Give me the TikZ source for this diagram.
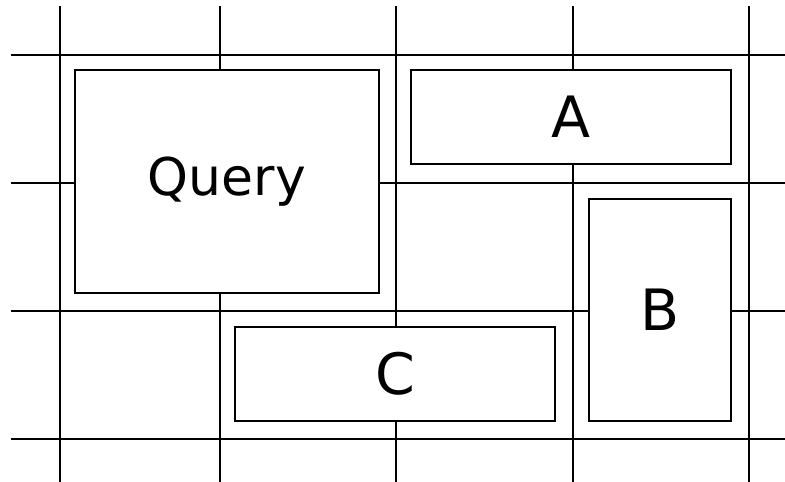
\documentclass[tikz,border=0pt]{standalone}
\usepackage{fontspec}
\setmainfont{DejaVu Sans}
\begin{document}
\begin{tikzpicture}[x=1pt,y=-1pt,
  gridline/.style={line width=1.6pt,black},
  box/.style={draw,line width=1.6pt,fill=white,inner sep=0pt,outer sep=0pt},
  bigtext/.style={font=\fontsize{52}{60}\selectfont},
  lettertext/.style={font=\fontsize{57}{64}\selectfont}]
\useasboundingbox[fill=white] (0,0) rectangle (785,482);
% grid
\foreach \x in {60,220,396,573,749} \draw[gridline] (\x,6) -- (\x,482);
\foreach \y in {55,183,311,439} \draw[gridline] (11,\y) -- (785,\y);
% boxes
\node[box,minimum width=304pt,minimum height=223pt] (q) at (227,181.5) {};
\node[bigtext] (qt) at (q.center) {Query};
\node[box,minimum width=320pt,minimum height=94pt] (a) at (571,117) {};
\node[lettertext] (at) at (a.center) {A};
\node[box,minimum width=142pt,minimum height=222pt] (b) at (660,310) {};
\node[lettertext] (bt) at (b.center) {B};
\node[box,minimum width=320pt,minimum height=94pt] (c) at (395,374) {};
\node[lettertext] (ct) at (c.center) {C};
\end{tikzpicture}
\end{document}
